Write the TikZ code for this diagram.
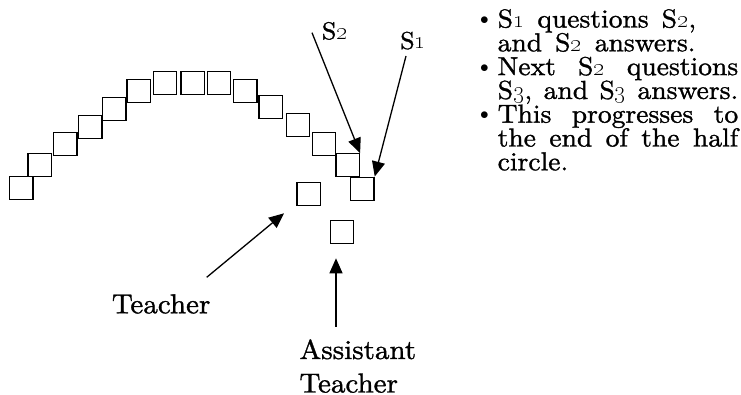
\documentclass[tikz,border=0pt]{standalone}
\usetikzlibrary{arrows.meta}

% Latin Modern Roman in its 10pt design at every size, a little wider and heavier
\DeclareFontFamily{TU}{lmten}{}
\DeclareFontShape{TU}{lmten}{m}{n}{<-> \UnicodeFontFile{lmroman10-regular}{mapping=tex-text;embolden=1.2;extend=1.06;}}{}
\renewcommand\rmdefault{lmten}

% old-style figures for the student numbers
\newcommand\osn[1]{\oldstylenums{#1}}
% bullet hung to the left of an item
\newcommand\itembullet{\leavevmode\llap{\raisebox{3pt}{\fontsize{16}{16}\selectfont$\bullet$}\hspace{9pt}}}

\tikzset{
  seat/.style={draw=black, line width=1.3pt, fill=white,
               minimum width=23.5pt, minimum height=23pt, inner sep=0pt},
  pointer/.style={draw=black, line width=1.3pt,
                  -{Triangle[length=15pt,width=13pt]}},
  biglabel/.style={inner sep=0pt, anchor=base west, align=left,
                   font=\fontsize{27.4}{33.5}\selectfont},
  studentlabel/.style={inner sep=0pt, anchor=base west,
                       font=\fontsize{24.5}{28}\selectfont},
}

\begin{document}
\normalfont
\begin{tikzpicture}[x=1pt, y=-1pt]
  \useasboundingbox (0,0) rectangle (741,395);

  % half circle of students, S1 at the right end
  \node[seat] (st1)  at (362.3,188.7) {};
  \node[seat] (st2)  at (347.7,165.3) {};
  \node[seat] (st3)  at (324.0,144.3) {};
  \node[seat] (st4)  at (298.0,125.0) {};
  \node[seat] (st5)  at (270.7,107.0) {};
  \node[seat] (st6)  at (245.3, 91.0) {};
  \node[seat] (st7)  at (219.0, 83.3) {};
  \node[seat] (st8)  at (192.7, 83.3) {};
  \node[seat] (st9)  at (165.0, 83.3) {};
  \node[seat] (st10) at (138.7, 91.0) {};
  \node[seat] (st11) at (114.3,109.3) {};
  \node[seat] (st12) at ( 90.3,126.7) {};
  \node[seat] (st13) at ( 65.3,144.0) {};
  \node[seat] (st14) at ( 39.7,165.3) {};
  \node[seat] (st15) at ( 21.3,188.0) {};

  % teacher and assistant teacher
  \node[seat] (teacher) at (308.7,194.0) {};
  \node[seat] (assist)  at (342.0,231.7) {};

  % labels
  \node[studentlabel] (labS2) at (321.7,39.3) {S\osn{2}};
  \node[studentlabel] (labS1) at (400.0,49.0) {S\osn{1}};
  \node[biglabel] (labT) at (111.7,313.3) {Teacher};
  \node[biglabel] (labA) at (299.3,392.5) {Assistant\\Teacher};

  % arrow ends
  \coordinate (tailS2) at (312.0,32.7);
  \coordinate (tailS1) at (406.0,56.0);
  \coordinate (tailT)  at (206.7,277.3);
  \coordinate (tipT)   at (284.0,213.3);
  \coordinate (tailA)  at (336.0,326.7);
  \coordinate (tipA)   at (336.0,258.3);

  \draw[pointer] (tailS2) -- (st2.north east);
  \draw[pointer] (tailS1) -- (st1.north east);
  \draw[pointer] (tailT) -- (tipT);
  \draw[pointer] (tailA) -- (tipA);

  % description of the procedure
  \node[inner sep=0pt, anchor=base west] (notes) at (497.5,27.5) {%
    \begin{minipage}[t]{240.5pt}
      \fontsize{26}{23.8}\selectfont
      \spaceskip=0.5em plus 3em minus 0.1em
      \parindent=0pt
      \itembullet S\osn{1} questions S\osn{2},\newline
      and S\osn{2} answers.\par
      \itembullet Next S\osn{2} questions\linebreak
      S\osn{3}, and S\osn{3} answers.\par
      \itembullet This progresses to\linebreak
      the end of the half\linebreak
      circle.\par
    \end{minipage}};
\end{tikzpicture}
\end{document}
